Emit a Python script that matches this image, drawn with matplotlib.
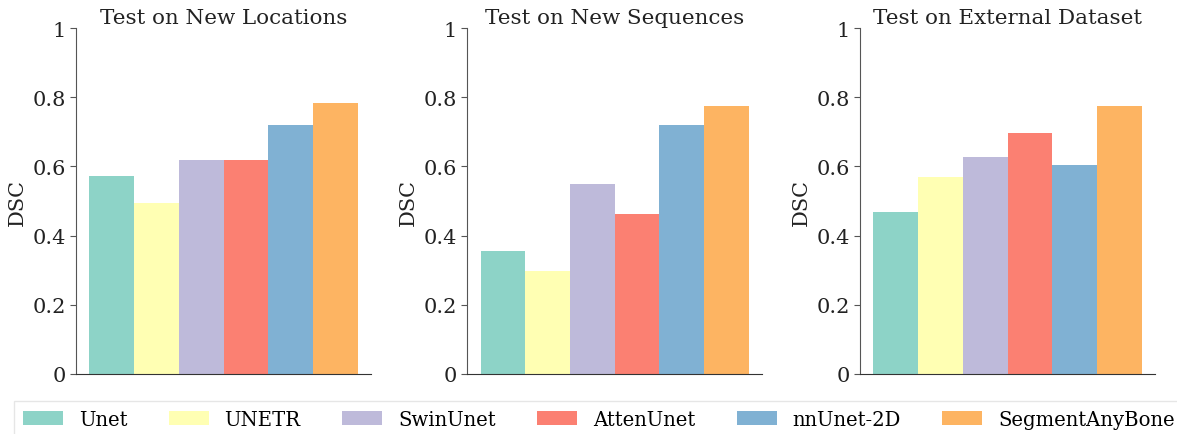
import matplotlib.pyplot as plt
from matplotlib.patches import Patch

models = ['Unet', 'UNETR', 'SwinUnet', 'AttenUnet', 'nnUnet-2D', 'SegmentAnyBone']
colors = ['#8dd3c7', '#ffffb3', '#bebada', '#fb8072', '#80b1d3', '#fdb462']

titles = ['Test on New Locations', 'Test on New Sequences', 'Test on External Dataset']
dsc_locations = [0.573, 0.494, 0.619, 0.619, 0.720, 0.784]
dsc_sequences = [0.356, 0.298, 0.550, 0.463, 0.721, 0.776]
dsc_external = [0.467, 0.571, 0.626, 0.697, 0.605, 0.776]
all_vals = [dsc_locations, dsc_sequences, dsc_external]

plt.rcParams['font.family'] = 'DejaVu Serif'

fig = plt.figure(figsize=(11.77, 4.35), dpi=100)
lefts = [0.0646, 0.397, 0.7307]

for i in range(3):
    ax = fig.add_axes([lefts[i], 0.138, 0.2506, 0.795])
    x = range(len(models))
    ax.bar(x, all_vals[i], width=1.0, color=colors)
    ax.set_xlim(-0.8, 5.8)
    ax.set_ylim(0, 1)
    ax.set_yticks([0, 0.2, 0.4, 0.6, 0.8, 1.0])
    ax.set_yticklabels(['0', '0.2', '0.4', '0.6', '0.8', '1'], fontsize=15)
    ax.set_xticks([])
    ax.set_ylabel('DSC', fontsize=15, color='#222222')
    ax.set_title(titles[i], fontsize=15.4, color='#222222', pad=4)
    ax.spines['top'].set_visible(False)
    ax.spines['right'].set_visible(False)
    ax.spines['left'].set_color('#555555')
    ax.spines['bottom'].set_color('#333333')
    ax.tick_params(axis='y', colors='#555555', labelcolor='#222222', length=4)

# legend sits along the bottom, its frame running past the right edge
handles = [Patch(facecolor=c, label=m) for c, m in zip(colors, models)]
leg = fig.legend(handles=handles, loc='upper left', bbox_to_anchor=(14 / 1177, 1 - 402 / 435),
                 ncol=6, fontsize=14.1, handlelength=2.05, handleheight=0.8,
                 handletextpad=0.8, columnspacing=2.12, borderpad=0.45,
                 borderaxespad=0, frameon=True, fancybox=False)
leg.get_frame().set_edgecolor('#e0e0e0')

fig.savefig('out.png', dpi=100)
